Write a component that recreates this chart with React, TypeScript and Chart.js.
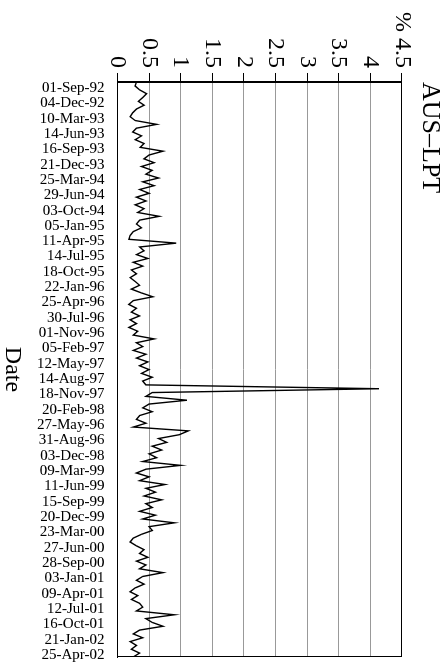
import { useEffect, useRef } from 'react';
import { Chart, registerables } from 'chart.js';

Chart.register(...registerables);

const DATE_LABELS = [
  '01-Sep-92', '04-Dec-92', '10-Mar-93', '14-Jun-93', '16-Sep-93', '21-Dec-93',
  '25-Mar-94', '29-Jun-94', '03-Oct-94', '05-Jan-95', '11-Apr-95', '14-Jul-95',
  '18-Oct-95', '22-Jan-96', '25-Apr-96', '30-Jul-96', '01-Nov-96', '05-Feb-97',
  '12-May-97', '14-Aug-97', '18-Nov-97', '20-Feb-98', '27-May-96', '31-Aug-96',
  '03-Dec-98', '09-Mar-99', '11-Jun-99', '15-Sep-99', '20-Dec-99', '23-Mar-00',
  '27-Jun-00', '28-Sep-00', '03-Jan-01', '09-Apr-01', '12-Jul-01', '16-Oct-01',
  '21-Jan-02', '25-Apr-02',
];

const VALUE_TICKS = [0, 0.5, 1, 1.5, 2, 2.5, 3, 3.5, 4, 4.5];

// position (in date-label units) of the first sample, and spacing between samples
const FIRST_POS = -0.375;
const STEP = 0.25;

const VALUES = [
  0.30, 0.28, 0.35, 0.46, 0.40, 0.33, 0.42, 0.30,
  0.24, 0.20, 0.28, 0.62, 0.30, 0.24, 0.38, 0.28,
  0.42, 0.36, 0.72, 0.50, 0.42, 0.58, 0.38, 0.55,
  0.45, 0.65, 0.40, 0.58, 0.35, 0.50, 0.30, 0.45,
  0.28, 0.42, 0.32, 0.66, 0.35, 0.30, 0.38, 0.25,
  0.20, 0.18, 0.93, 0.35, 0.42, 0.30, 0.48, 0.25,
  0.40, 0.22, 0.30, 0.20, 0.28, 0.35, 0.22, 0.38,
  0.56, 0.25, 0.18, 0.30, 0.22, 0.35, 0.20, 0.30,
  0.18, 0.32, 0.25, 0.58, 0.30, 0.40, 0.25, 0.45,
  0.30, 0.48, 0.35, 0.50, 0.38, 0.55, 0.40, 0.45,
  4.14, 0.55, 0.45, 1.10, 0.50, 0.40, 0.55, 0.35,
  0.30, 0.45, 0.25, 1.12, 0.98, 0.65, 0.78, 0.55,
  0.70, 0.50, 0.62, 0.40, 1.00, 0.45, 0.30, 0.50,
  0.35, 0.75, 0.45, 0.60, 0.42, 0.70, 0.45, 0.55,
  0.35, 0.60, 0.40, 0.90, 0.50, 0.55, 0.38, 0.25,
  0.20, 0.30, 0.42, 0.35, 0.48, 0.30, 0.45, 0.35,
  0.72, 0.40, 0.30, 0.42, 0.28, 0.20, 0.32, 0.22,
  0.35, 0.40, 0.30, 0.90, 0.45, 0.55, 0.72, 0.35,
  0.25, 0.40, 0.20, 0.30, 0.22, 0.35, 0.25,
];

const FONT = 'Liberation Serif, Times New Roman, serif';

const framePlugin = {
  id: 'frame',
  afterDatasetsDraw(chart: any) {
    const { ctx, chartArea } = chart;
    const l = Math.round(chartArea.left) + 0.5;
    const t = Math.round(chartArea.top) + 0.5;
    const r = Math.round(chartArea.right) - 0.5;
    const b = Math.round(chartArea.bottom) - 0.5;
    ctx.save();
    ctx.strokeStyle = '#000';
    ctx.lineWidth = 1;
    ctx.strokeRect(l, t, r - l, b - t);
    ctx.restore();
  },
};

export default function App() {
  const ref = useRef<HTMLCanvasElement>(null);

  useEffect(() => {
    const canvas = ref.current;
    if (!canvas) return;
    const chart = new Chart(canvas, {
      type: 'line',
      data: {
        datasets: [
          {
            data: VALUES.map((v, i) => ({ x: FIRST_POS + i * STEP, y: v })),
            borderColor: '#000',
            borderWidth: 1.4,
            pointRadius: 0,
            tension: 0,
            fill: false,
          },
        ],
      },
      options: {
        animation: false,
        responsive: false,
        devicePixelRatio: 1,
        parsing: false,
        normalized: true,
        layout: { padding: { left: 7, right: 10, top: 0, bottom: 0 } },
        plugins: {
          legend: { display: false },
          tooltip: { enabled: false },
          title: {
            display: true,
            text: 'AUS–LPT',
            align: 'start',
            fullSize: false,
            color: '#000',
            font: { family: FONT, size: 26, weight: 'normal', lineHeight: 1.2 },
            padding: { top: 2, bottom: 12 },
          },
        },
        scales: {
          x: {
            type: 'linear',
            position: 'bottom',
            min: -0.39,
            max: 37.13,
            afterBuildTicks: (scale: any) => {
              scale.ticks = DATE_LABELS.map((_, i) => ({ value: i }));
            },
            afterFit: (scale: any) => {
              scale.paddingLeft = 0;
              scale.paddingRight = 0;
            },
            grid: { display: false, drawTicks: false },
            border: { display: true, color: '#000' },
            ticks: {
              autoSkip: false,
              minRotation: 90,
              maxRotation: 90,
              padding: 13,
              color: '#000',
              font: { family: FONT, size: 15 },
              callback: (v: any) => DATE_LABELS[Math.round(Number(v))] ?? '',
            },
            title: {
              display: true,
              text: 'Date',
              color: '#000',
              font: { family: FONT, size: 24, lineHeight: 1 },
              padding: { top: 0, bottom: 0 },
            },
          },
          y: {
            type: 'linear',
            position: 'left',
            min: 0,
            max: 4.5,
            afterBuildTicks: (scale: any) => {
              scale.ticks = VALUE_TICKS.map((v) => ({ value: v }));
            },
            grid: {
              color: '#999',
              tickColor: '#000',
              tickLength: 9,
              lineWidth: 1,
            },
            border: { display: true, color: '#000' },
            ticks: {
              autoSkip: false,
              padding: 5,
              color: '#000',
              font: { family: FONT, size: 24 },
              callback: (v: any) => (Number(v) === 4.5 ? '% 4.5' : String(v)),
            },
          },
        },
      },
      plugins: [framePlugin],
    } as any);
    return () => chart.destroy();
  }, []);

  return (
    <div
      style={{
        position: 'fixed',
        left: 0,
        top: 0,
        width: 447,
        height: 667,
        overflow: 'hidden',
        background: '#fff',
      }}
    >
      <canvas
        ref={ref}
        width={667}
        height={447}
        style={{
          position: 'absolute',
          left: 0,
          top: 0,
          width: 667,
          height: 447,
          transformOrigin: '0 0',
          transform: 'translate(447px, 0) rotate(90deg)',
        }}
      />
    </div>
  );
}
